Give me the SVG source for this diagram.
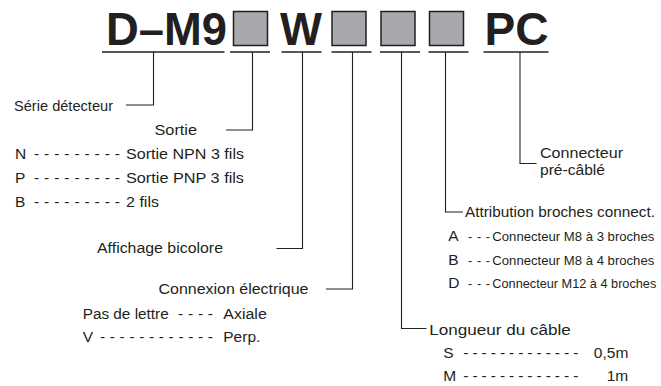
<svg xmlns="http://www.w3.org/2000/svg" width="661" height="386" viewBox="0 0 661 386">
<style>
  .t { font-family: "Liberation Sans", Arial, Helvetica, sans-serif; font-size: 15.5px; fill: #231f20; }
  .s { font-family: "Liberation Sans", Arial, Helvetica, sans-serif; font-size: 12.7px; fill: #231f20; }
  .h { font-family: "Liberation Sans", Arial, Helvetica, sans-serif; font-size: 46px; font-weight: bold; fill: #231f20; }
  .box { fill: #a7a9ac; stroke: #231f20; stroke-width: 1.5; }
  .ul { stroke: #231f20; stroke-width: 1.4; fill: none; }
  .c { stroke: #231f20; stroke-width: 1.1; fill: none; }
</style>
<rect width="661" height="386" fill="#ffffff"/>

<g id="code">
  <g id="code-dm9"><text class="h" x="106" y="45" textLength="121" lengthAdjust="spacingAndGlyphs">D–M9</text><line class="ul" x1="102" y1="52" x2="224.5" y2="52"/></g>
  <g id="code-box1"><rect class="box" x="233.5" y="11.5" width="34" height="34"/><line class="ul" x1="230" y1="52" x2="270" y2="52"/></g>
  <g id="code-w"><text class="h" x="280" y="45" textLength="42" lengthAdjust="spacingAndGlyphs">W</text><line class="ul" x1="281.5" y1="52" x2="321.5" y2="52"/></g>
  <g id="code-box2"><rect class="box" x="332" y="11.5" width="34" height="34"/><line class="ul" x1="331.5" y1="52" x2="371.5" y2="52"/></g>
  <g id="code-box3"><rect class="box" x="381" y="11.5" width="34" height="34"/><line class="ul" x1="380" y1="52" x2="420" y2="52"/></g>
  <g id="code-box4"><rect class="box" x="429.5" y="11.5" width="34" height="34"/><line class="ul" x1="428.5" y1="52" x2="468.5" y2="52"/></g>
  <g id="code-pc"><text class="h" x="484.5" y="45" textLength="64" lengthAdjust="spacingAndGlyphs">PC</text><line class="ul" x1="483.5" y1="52" x2="548.5" y2="52"/></g>
</g>

<g id="connectors">
  <path class="c" d="M153.5 52 V105 H126"/>
  <path class="c" d="M252.5 52 V130 H226"/>
  <path class="c" d="M302.5 52 V248.5 H276.5"/>
  <path class="c" d="M352.5 52 V289 H326"/>
  <path class="c" d="M401.5 52 V328.5 H426.5"/>
  <path class="c" d="M445.5 52 V212 H463"/>
  <path class="c" d="M520 52 V163.5 H536.5"/>
</g>

<g id="serie">
  <text class="t" x="14" y="110.5" textLength="99" lengthAdjust="spacingAndGlyphs">Série détecteur</text>
</g>

<g id="sortie">
  <text class="t" x="154.5" y="135" textLength="42.5" lengthAdjust="spacingAndGlyphs">Sortie</text>
  <text class="t" x="15" y="159">N</text>
  <text class="t" x="34" y="159" textLength="86">- - - - - - - - -</text>
  <text class="t" x="126" y="159" textLength="118" lengthAdjust="spacingAndGlyphs">Sortie NPN 3 fils</text>
  <text class="t" x="15" y="183.3">P</text>
  <text class="t" x="34" y="183.3" textLength="86">- - - - - - - - -</text>
  <text class="t" x="126" y="183.3" textLength="118" lengthAdjust="spacingAndGlyphs">Sortie PNP 3 fils</text>
  <text class="t" x="15" y="207.3">B</text>
  <text class="t" x="34" y="207.3" textLength="86">- - - - - - - - -</text>
  <text class="t" x="126" y="207.3" textLength="33" lengthAdjust="spacingAndGlyphs">2 fils</text>
</g>

<g id="affichage">
  <text class="t" x="97" y="253.3" textLength="126" lengthAdjust="spacingAndGlyphs">Affichage bicolore</text>
</g>

<g id="connexion">
  <text class="t" x="158.5" y="294" textLength="150" lengthAdjust="spacingAndGlyphs">Connexion électrique</text>
  <text class="t" x="82.7" y="319" textLength="86" lengthAdjust="spacingAndGlyphs">Pas de lettre</text>
  <text class="t" x="178" y="319" textLength="35">- - - -</text>
  <text class="t" x="223.3" y="319" textLength="43.5" lengthAdjust="spacingAndGlyphs">Axiale</text>
  <text class="t" x="82.7" y="341.7">V</text>
  <text class="t" x="100" y="341.7" textLength="113">- - - - - - - - - - - -</text>
  <text class="t" x="223.3" y="341.7" textLength="37" lengthAdjust="spacingAndGlyphs">Perp.</text>
</g>

<g id="precable">
  <text class="t" x="540" y="158.3" textLength="83" lengthAdjust="spacingAndGlyphs">Connecteur</text>
  <text class="t" x="540" y="174.5" textLength="65" lengthAdjust="spacingAndGlyphs">pré-câblé</text>
</g>

<g id="attribution">
  <text class="t" x="465" y="217" textLength="190" lengthAdjust="spacingAndGlyphs">Attribution broches connect.</text>
  <text class="t" x="448.3" y="241">A</text>
  <text class="s" x="468" y="241" textLength="22">- - -</text>
  <text class="s" x="492.3" y="241" textLength="162" lengthAdjust="spacingAndGlyphs">Connecteur M8 à 3 broches</text>
  <text class="t" x="448.3" y="264.5">B</text>
  <text class="s" x="468" y="264.5" textLength="22">- - -</text>
  <text class="s" x="492.3" y="264.5" textLength="162" lengthAdjust="spacingAndGlyphs">Connecteur M8 à 4 broches</text>
  <text class="t" x="448.3" y="288">D</text>
  <text class="s" x="468" y="288" textLength="22">- - -</text>
  <text class="s" x="492.3" y="288" textLength="164" lengthAdjust="spacingAndGlyphs">Connecteur M12 à 4 broches</text>
</g>

<g id="longueur">
  <text class="t" x="429.3" y="335" textLength="141.5" lengthAdjust="spacingAndGlyphs">Longueur du câble</text>
  <text class="t" x="443.3" y="357.5">S</text>
  <text class="t" x="463.3" y="357.5" textLength="115">- - - - - - - - - - - - -</text>
  <text class="t" x="628.3" y="357.5" text-anchor="end">0,5m</text>
  <text class="t" x="443.3" y="380.5">M</text>
  <text class="t" x="463.3" y="380.5" textLength="115">- - - - - - - - - - - - -</text>
  <text class="t" x="628.3" y="380.5" text-anchor="end">1m</text>
</g>
</svg>
